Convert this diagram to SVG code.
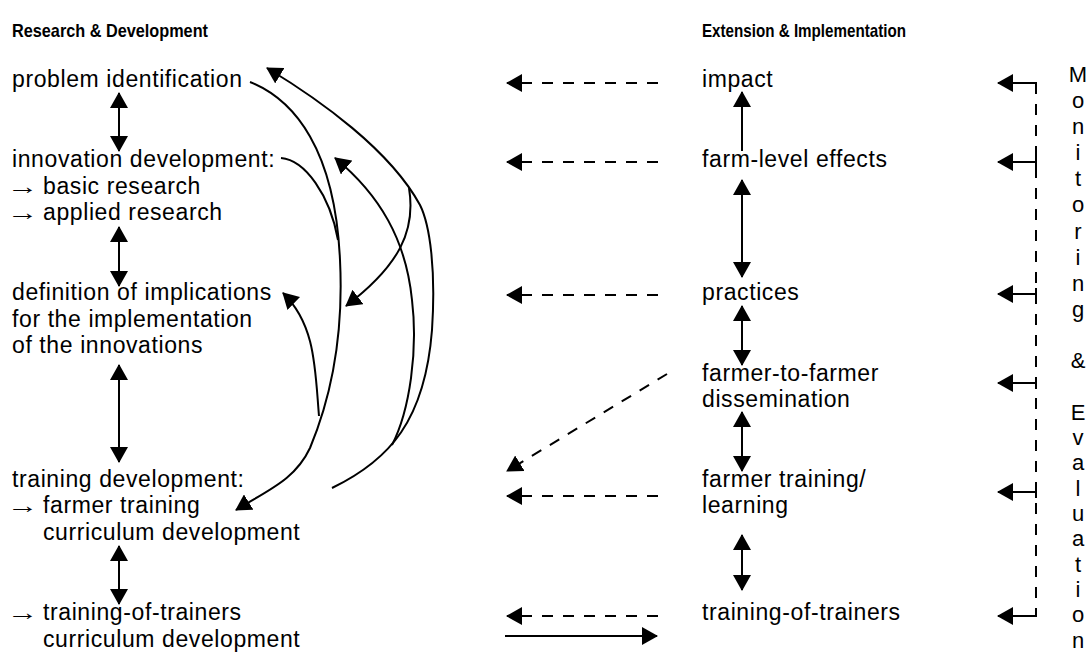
<svg xmlns="http://www.w3.org/2000/svg" width="1092" height="662" viewBox="0 0 1092 662">
<style>
text{font-family:"Liberation Sans",Arial,sans-serif;fill:#000}
.t{font-size:23px;letter-spacing:0.6px}
.ar{font-size:23px}
.h{font-size:19px;font-weight:bold}
.m{font-size:22px;text-anchor:middle}
.ln{stroke:#000;stroke-width:2;fill:none}
.ds{stroke:#000;stroke-width:2;fill:none;stroke-dasharray:11 10}
.a1{marker-end:url(#ah)}
.a2{marker-start:url(#ah);marker-end:url(#ah)}
</style>
<defs>
<marker id="ah" markerWidth="16" markerHeight="18" refX="15" refY="9" orient="auto-start-reverse" markerUnits="userSpaceOnUse">
<path d="M0,0 L16,9 L0,18 z" fill="#000"/>
</marker>
</defs>
<rect width="1092" height="662" fill="#fff"/>
<g id="headers">
<text class="h" x="12" y="37" textLength="196" lengthAdjust="spacingAndGlyphs">Research &amp; Development</text>
<text class="h" x="702" y="37" textLength="204" lengthAdjust="spacingAndGlyphs">Extension &amp; Implementation</text>
</g>
<g id="problem-identification"><text class="t" x="12" y="87">problem identification</text></g>
<g id="innovation-development">
<text class="t" x="12" y="167">innovation development:</text>
<text class="ar" transform="translate(6.5,194) scale(1.37,1)">→</text>
<text class="t" x="43" y="194">basic research</text>
<text class="ar" transform="translate(6.5,220) scale(1.37,1)">→</text>
<text class="t" x="43" y="220">applied research</text>
</g>
<g id="definition-of-implications">
<text class="t" x="12" y="300">definition of implications</text>
<text class="t" x="12" y="327">for the implementation</text>
<text class="t" x="12" y="353">of the innovations</text>
</g>
<g id="training-development">
<text class="t" x="12" y="487">training development:</text>
<text class="ar" transform="translate(6.5,513) scale(1.37,1)">→</text>
<text class="t" x="43" y="513">farmer training</text>
<text class="t" x="43" y="540">curriculum development</text>
</g>
<g id="tot-curriculum">
<text class="ar" transform="translate(6.5,620) scale(1.37,1)">→</text>
<text class="t" x="43" y="620">training-of-trainers</text>
<text class="t" x="43" y="647">curriculum development</text>
</g>
<g id="impact"><text class="t" x="702" y="87">impact</text></g>
<g id="farm-level-effects"><text class="t" x="702" y="167">farm-level effects</text></g>
<g id="practices"><text class="t" x="702" y="300">practices</text></g>
<g id="farmer-to-farmer">
<text class="t" x="702" y="381">farmer-to-farmer</text>
<text class="t" x="702" y="407">dissemination</text>
</g>
<g id="farmer-training">
<text class="t" x="702" y="487">farmer training/</text>
<text class="t" x="702" y="513">learning</text>
</g>
<g id="training-of-trainers"><text class="t" x="702" y="620">training-of-trainers</text></g>
<g id="monitoring-evaluation">
<text class="m" x="1078" y="82">M</text>
<text class="m" x="1078" y="108">o</text>
<text class="m" x="1078" y="134">n</text>
<text class="m" x="1078" y="160">i</text>
<text class="m" x="1078" y="186">t</text>
<text class="m" x="1078" y="212">o</text>
<text class="m" x="1078" y="239">r</text>
<text class="m" x="1078" y="265">i</text>
<text class="m" x="1078" y="291">n</text>
<text class="m" x="1078" y="317">g</text>
<text class="m" x="1078" y="368">&amp;</text>
<text class="m" x="1078" y="420">E</text>
<text class="m" x="1078" y="445">v</text>
<text class="m" x="1078" y="470">a</text>
<text class="m" x="1078" y="496">l</text>
<text class="m" x="1078" y="521">u</text>
<text class="m" x="1078" y="546">a</text>
<text class="m" x="1078" y="572">t</text>
<text class="m" x="1078" y="597">i</text>
<text class="m" x="1078" y="622">o</text>
<text class="m" x="1078" y="648">n</text>
</g>
<g id="connectors">
<line class="ln a2" x1="119" y1="93" x2="119" y2="151"/>
<line class="ln a2" x1="119" y1="227" x2="119" y2="286"/>
<line class="ln a2" x1="119" y1="365" x2="119" y2="462"/>
<line class="ln a2" x1="119" y1="546" x2="119" y2="604"/>
<line class="ln a1" x1="742" y1="151" x2="742" y2="92"/>
<line class="ln a2" x1="742" y1="180" x2="742" y2="277"/>
<line class="ln a2" x1="742" y1="306" x2="742" y2="365"/>
<line class="ln a2" x1="742" y1="412" x2="742" y2="471"/>
<line class="ln a2" x1="742" y1="535" x2="742" y2="590"/>
<line class="ds a1" x1="658" y1="83" x2="507" y2="83"/>
<line class="ds a1" x1="658" y1="162" x2="507" y2="162"/>
<line class="ds a1" x1="658" y1="295" x2="507" y2="295"/>
<line class="ds a1" x1="667" y1="374" x2="507" y2="471"/>
<line class="ds a1" x1="658" y1="496" x2="507" y2="496"/>
<line class="ds a1" x1="658" y1="616" x2="507" y2="616"/>
<line class="ln a1" x1="505" y1="636" x2="657" y2="636"/>
<line class="ds" x1="1036" y1="83" x2="1036" y2="616"/>
<path class="ln" d="M1036,91 V83 H1000"/>
<path class="ln" d="M1036,156 V168 M1036,162 H1000"/>
<path class="ln" d="M1036,288 V300 M1036,294 H1000"/>
<path class="ln" d="M1036,377 V389 M1036,383 H1000"/>
<path class="ln" d="M1036,486 V498 M1036,492 H1000"/>
<path class="ln" d="M1036,608 V616 H1000"/>
<line class="ln a1" x1="1010" y1="83" x2="998" y2="83"/>
<line class="ln a1" x1="1010" y1="162" x2="998" y2="162"/>
<line class="ln a1" x1="1010" y1="294" x2="998" y2="294"/>
<line class="ln a1" x1="1010" y1="383" x2="998" y2="383"/>
<line class="ln a1" x1="1010" y1="492" x2="998" y2="492"/>
<line class="ln a1" x1="1010" y1="616" x2="998" y2="616"/>
<path class="ln a1" d="M250,82 C295,100 335,150 340,260 C344,340 330,400 310,448 C295,480 268,490 236,510"/>
<path class="ln" d="M281,158 C305,160 330,195 338,240"/>
<path class="ln a1" d="M319,416 C315,370 316,325 283,293"/>
<path class="ln a1" d="M332,488 C390,460 425,420 432,330 C436,270 430,225 420,205 C390,150 320,100 267,68"/>
<path class="ln a1" d="M409,188 C416,230 400,265 346,306"/>
<path class="ln a1" d="M392,445 C410,410 418,350 412,300 C406,240 380,195 335,158"/>
</g>
</svg>
